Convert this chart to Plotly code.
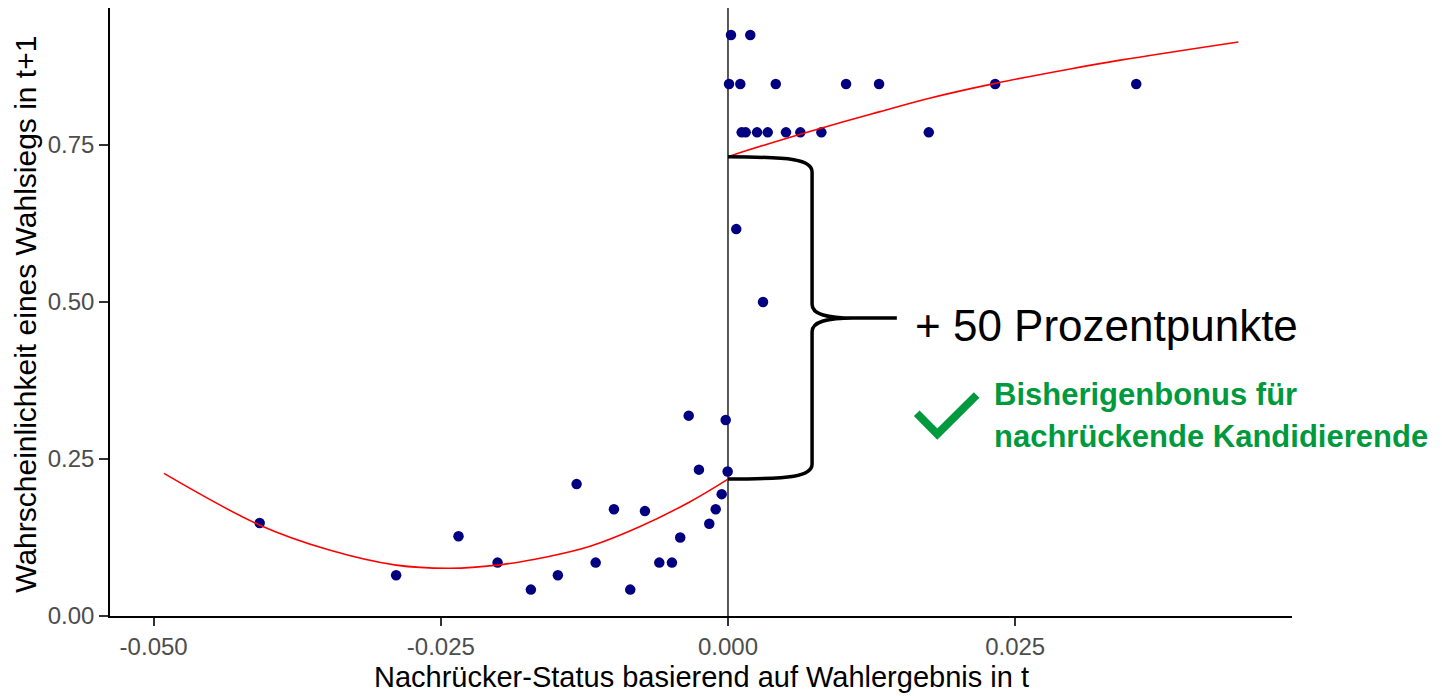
import plotly.graph_objects as go

# ---- data ----
pts_x = [0.00026, 0.00194,
         0.00009, 0.00107, 0.00416, 0.01028, 0.01315, 0.02326, 0.03554,
         0.00119, 0.00154, 0.00253, 0.00346, 0.00505, 0.00630, 0.00813, 0.01748,
         0.00072, 0.00305,
         -0.00342, -0.00020, -0.00253, -0.00003, -0.01318, -0.00055, -0.00993,
         -0.00723, -0.00107, -0.00163, -0.00416, -0.01152, -0.00598, -0.00488,
         -0.01481, -0.00851, -0.04077, -0.02889, -0.02346, -0.02006, -0.01716]
pts_y = [0.925, 0.925,
         0.847, 0.847, 0.847, 0.847, 0.847, 0.847, 0.847,
         0.770, 0.770, 0.770, 0.770, 0.770, 0.770, 0.770, 0.770,
         0.616, 0.500,
         0.319, 0.312, 0.233, 0.230, 0.210, 0.194, 0.170,
         0.167, 0.170, 0.147, 0.125, 0.085, 0.085, 0.085,
         0.065, 0.042, 0.148, 0.065, 0.127, 0.085, 0.042]

fit_left_x = [-0.0491, -0.0408, -0.0347, -0.0289, -0.0242, -0.0201, -0.0158, -0.0120, -0.0077, -0.0033, 0.0]
fit_left_y = [0.227, 0.145, 0.105, 0.081, 0.076, 0.081, 0.094, 0.111, 0.142, 0.182, 0.218]
fit_right_x = [0.0, 0.00163, 0.00816, 0.01324, 0.01745, 0.02326, 0.02979, 0.03415, 0.04443]
fit_right_y = [0.731, 0.741, 0.777, 0.803, 0.824, 0.848, 0.871, 0.885, 0.914]

x_ticks = [-0.05, -0.025, 0.0, 0.025]
x_ticktext = ["-0.050", "-0.025", "0.000", "0.025"]
y_ticks = [0.0, 0.25, 0.5, 0.75]
y_ticktext = ["0.00", "0.25", "0.50", "0.75"]

x_title = "Nachrücker-Status basierend auf Wahlergebnis in t"
y_title = "Wahrscheinlichkeit eines Wahlsiegs in t+1"
effect_label = "+ 50 Prozentpunkte"
bonus_lines = ["Bisherigenbonus für", "nachrückende Kandidierende"]

FONT = "Liberation Sans, Arial, sans-serif"
GREEN = "#009A3E"

fig = go.Figure()
fig.add_trace(go.Scatter(x=pts_x, y=pts_y, mode="markers",
                         marker=dict(color="#000080", size=10.5),
                         hoverinfo="skip", showlegend=False))
for fx, fy in ((fit_left_x, fit_left_y), (fit_right_x, fit_right_y)):
    fig.add_trace(go.Scatter(x=fx, y=fy, mode="lines",
                             line=dict(color="red", width=1.6, shape="spline", smoothing=1.0),
                             hoverinfo="skip", showlegend=False))

# vertical cutoff line
fig.add_shape(type="line", xref="x", yref="paper", x0=0, x1=0, y0=0, y1=1,
              line=dict(color="#222222", width=1.5), layer="below")

# curly brace between the two fit values at the cutoff
yt = fit_right_y[0]
yb = fit_left_y[-1]
ym = (yt + yb) / 2
xv, xm, xt = 0.00732, 0.0109, 0.0147
brace = (f"M 0,{yt} C 0.0055,{yt} {xv},{yt-0.004} {xv},{yt-0.024} "
         f"L {xv},{ym+0.022} C {xv},{ym+0.006} 0.0085,{ym} {xm},{ym} L {xt},{ym} "
         f"M {xt},{ym} L {xm},{ym} C 0.0085,{ym} {xv},{ym-0.006} {xv},{ym-0.022} "
         f"L {xv},{yb+0.024} C {xv},{yb+0.004} 0.0055,{yb} 0,{yb}")
fig.add_shape(type="path", xref="x", yref="y", path=brace,
              line=dict(color="black", width=3.5))

# check mark (paper coords)
fig.add_shape(type="path", xref="paper", yref="paper",
              path="M 0.6825,0.3334 L 0.6999,0.2993 L 0.7332,0.3635",
              line=dict(color=GREEN, width=8))

annotations = [
    dict(text=x_title, x=0.5, y=-0.1, xref="paper", yref="paper",
         xanchor="center", yanchor="middle", showarrow=False,
         font=dict(family=FONT, size=29, color="black")),
    dict(text=y_title, x=-0.0711, y=0.497, xref="paper", yref="paper",
         xanchor="center", yanchor="middle", textangle=-90, showarrow=False,
         font=dict(family=FONT, size=30, color="black")),
    dict(text=effect_label, x=0.6795, y=0.4786, xref="paper", yref="paper",
         xanchor="left", yanchor="middle", showarrow=False,
         font=dict(family=FONT, size=44, color="black")),
    dict(text=f"<b>{bonus_lines[0]}</b>", x=0.746, y=0.3635, xref="paper", yref="paper",
         xanchor="left", yanchor="middle", showarrow=False,
         font=dict(family=FONT, size=31, color=GREEN)),
    dict(text=f"<b>{bonus_lines[1]}</b>", x=0.746, y=0.295, xref="paper", yref="paper",
         xanchor="left", yanchor="middle", showarrow=False,
         font=dict(family=FONT, size=31, color=GREEN)),
]

fig.update_layout(
    width=1434, height=688,
    margin=dict(l=102, r=150, t=0, b=80, autoexpand=False),
    plot_bgcolor="white", paper_bgcolor="white",
    showlegend=False, hovermode=False,
    annotations=annotations,
    xaxis=dict(range=[-0.0538, 0.0491], tickvals=x_ticks, ticktext=x_ticktext,
               showgrid=False, zeroline=False, showline=True, linecolor="black", linewidth=1.5,
               ticks="outside", ticklen=8, tickwidth=1.5, tickcolor="#333333",
               tickfont=dict(family=FONT, size=24, color="#4D4D4D")),
    yaxis=dict(range=[0.0, 0.968], tickvals=y_ticks, ticktext=y_ticktext,
               showgrid=False, zeroline=False, showline=True, linecolor="black", linewidth=1.5,
               ticks="outside", ticklen=9, tickwidth=1.5, tickcolor="#333333",
               tickfont=dict(family=FONT, size=24, color="#4D4D4D")),
)

fig.write_html("out.html")
